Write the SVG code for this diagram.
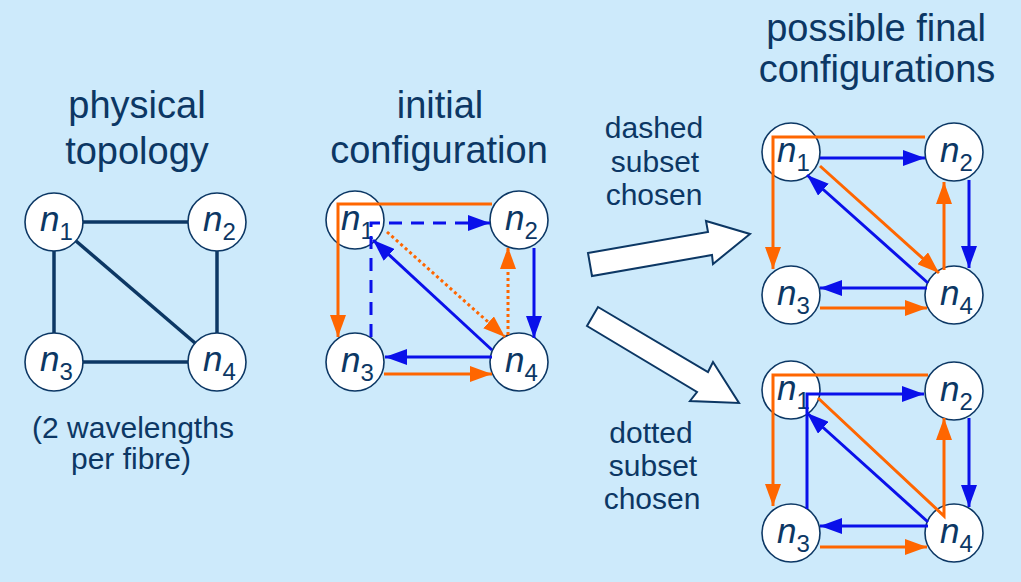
<svg xmlns="http://www.w3.org/2000/svg" width="1021" height="582" viewBox="0 0 1021 582">
<style>
.t{font-family:"Liberation Sans",Arial,sans-serif;fill:#0c3764;text-anchor:middle}
.big{font-size:38px}
.mid{font-size:30px}
.nd circle{fill:#fff;stroke:#0c3764;stroke-width:1.6}
.lab{font-family:"Liberation Sans",Arial,sans-serif;fill:#0c3764;font-size:35px;font-style:italic}
.sub{font-style:normal;font-size:24px}
.phys{stroke:#0c3764;stroke-width:3.5;fill:none}
.b{stroke:#0a10ea;stroke-width:3;fill:none}
.o{stroke:#ff6600;stroke-width:3;fill:none}
.ba{marker-end:url(#ab)}
.oa{marker-end:url(#ao)}
.dash{stroke-dasharray:13 9}
.dot{stroke-dasharray:3 3}
.blk{fill:#fff;stroke:#0c3764;stroke-width:2;stroke-linejoin:miter}
</style>
<defs>
<marker id="ab" markerUnits="userSpaceOnUse" markerWidth="22" markerHeight="16" refX="22" refY="8" orient="auto" viewBox="0 0 22 16"><path d="M0,0 L22,8 L0,16 z" fill="#0a10ea"/></marker>
<marker id="ao" markerUnits="userSpaceOnUse" markerWidth="22" markerHeight="16" refX="22" refY="8" orient="auto" viewBox="0 0 22 16"><path d="M0,0 L22,8 L0,16 z" fill="#ff6600"/></marker>
</defs>
<rect x="0" y="0" width="1021" height="582" fill="#cdeafb"/>
<g id="titles">
<text class="t big" x="137" y="118">physical</text>
<text class="t big" x="137" y="164">topology</text>
<text class="t big" x="440" y="118">initial</text>
<text class="t big" x="439" y="163">configuration</text>
<text class="t big" x="876" y="41">possible final</text>
<text class="t big" x="877" y="82">configurations</text>
<text class="t mid" x="133" y="438">(2 wavelengths</text>
<text class="t mid" x="131" y="469">per fibre)</text>
<text class="t mid" x="654" y="138">dashed</text>
<text class="t mid" x="655" y="172">subset</text>
<text class="t mid" x="654" y="205">chosen</text>
<text class="t mid" x="651" y="443">dotted</text>
<text class="t mid" x="653" y="476">subset</text>
<text class="t mid" x="652" y="509">chosen</text>
</g>
<g id="block-arrows">
<polygon class="blk" points="588,253 708,232 706,221 750,234 713,264 712,255 592,276"/>
<polygon class="blk" points="598,307 708,372 713,362 739,403 690,401 697,392 587,326"/>
</g>
<g id="phys-n1" class="nd"><circle cx="54" cy="222" r="29"/><text class="lab" x="40" y="231">n<tspan class="sub" dy="9">1</tspan></text></g>
<g id="phys-n2" class="nd"><circle cx="217" cy="222" r="29"/><text class="lab" x="203" y="231">n<tspan class="sub" dy="9">2</tspan></text></g>
<g id="phys-n3" class="nd"><circle cx="54" cy="362" r="29"/><text class="lab" x="40" y="371">n<tspan class="sub" dy="9">3</tspan></text></g>
<g id="phys-n4" class="nd"><circle cx="217" cy="362" r="29"/><text class="lab" x="203" y="371">n<tspan class="sub" dy="9">4</tspan></text></g>
<g id="init-n1" class="nd"><circle cx="355" cy="220" r="29"/><text class="lab" x="341" y="230">n<tspan class="sub" dy="9">1</tspan></text></g>
<g id="init-n2" class="nd"><circle cx="519" cy="220" r="29"/><text class="lab" x="505" y="230">n<tspan class="sub" dy="9">2</tspan></text></g>
<g id="init-n3" class="nd"><circle cx="355" cy="362" r="29"/><text class="lab" x="341" y="372">n<tspan class="sub" dy="9">3</tspan></text></g>
<g id="init-n4" class="nd"><circle cx="519" cy="362" r="29"/><text class="lab" x="505" y="372">n<tspan class="sub" dy="9">4</tspan></text></g>
<g id="dash-n1" class="nd"><circle cx="791" cy="152" r="29"/><text class="lab" x="777" y="162">n<tspan class="sub" dy="9">1</tspan></text></g>
<g id="dash-n2" class="nd"><circle cx="954" cy="152" r="29"/><text class="lab" x="940" y="162">n<tspan class="sub" dy="9">2</tspan></text></g>
<g id="dash-n3" class="nd"><circle cx="791" cy="295" r="29"/><text class="lab" x="777" y="305">n<tspan class="sub" dy="9">3</tspan></text></g>
<g id="dash-n4" class="nd"><circle cx="954" cy="295" r="29"/><text class="lab" x="940" y="305">n<tspan class="sub" dy="9">4</tspan></text></g>
<g id="dot-n1" class="nd"><circle cx="791" cy="390" r="29"/><text class="lab" x="777" y="400">n<tspan class="sub" dy="9">1</tspan></text></g>
<g id="dot-n2" class="nd"><circle cx="954" cy="391" r="29"/><text class="lab" x="940" y="401">n<tspan class="sub" dy="9">2</tspan></text></g>
<g id="dot-n3" class="nd"><circle cx="791" cy="533" r="29"/><text class="lab" x="777" y="543">n<tspan class="sub" dy="9">3</tspan></text></g>
<g id="dot-n4" class="nd"><circle cx="954" cy="533" r="29"/><text class="lab" x="940" y="543">n<tspan class="sub" dy="9">4</tspan></text></g>
<g id="connectors">
<path class="phys" d="M83,222 H188"/>
<path class="phys" d="M83,362 H188"/>
<path class="phys" d="M54,251 V333"/>
<path class="phys" d="M217,251 V333"/>
<path class="phys" d="M76,241 L195,343"/>

<path class="o oa" d="M492,204 H338 V337"/>
<path class="b ba dash" d="M371,337 V223 H490"/>
<path class="b ba" d="M492,350 L373,240"/>
<path class="o oa dot" d="M387,232 L505,337"/>
<path class="o oa dot" d="M508,335 V247"/>
<path class="b ba" d="M534,248 V338"/>
<path class="b ba" d="M492,357 H385"/>
<path class="o oa" d="M384,374 H492"/>

<path class="o oa" d="M925,137 H773 V269"/>
<path class="b ba" d="M820,158 H925"/>
<path class="o oa" d="M820,166 L939,273"/>
<path class="b ba" d="M928,283 L807,175"/>
<path class="o oa" d="M944,270 V182"/>
<path class="b ba" d="M969,180 V268"/>
<path class="b ba" d="M927,288 H820"/>
<path class="o oa" d="M820,308 H927"/>

<path class="o oa" d="M928,375 H773 V506"/>
<path class="b ba" d="M807,509 V394 H924"/>
<path class="o oa" d="M818,398 L944,516 V418"/>
<path class="b ba" d="M928,522 L807,413"/>
<path class="b ba" d="M969,418 V507"/>
<path class="b ba" d="M928,526 H820"/>
<path class="o oa" d="M820,547 H927"/>
</g>
</svg>
